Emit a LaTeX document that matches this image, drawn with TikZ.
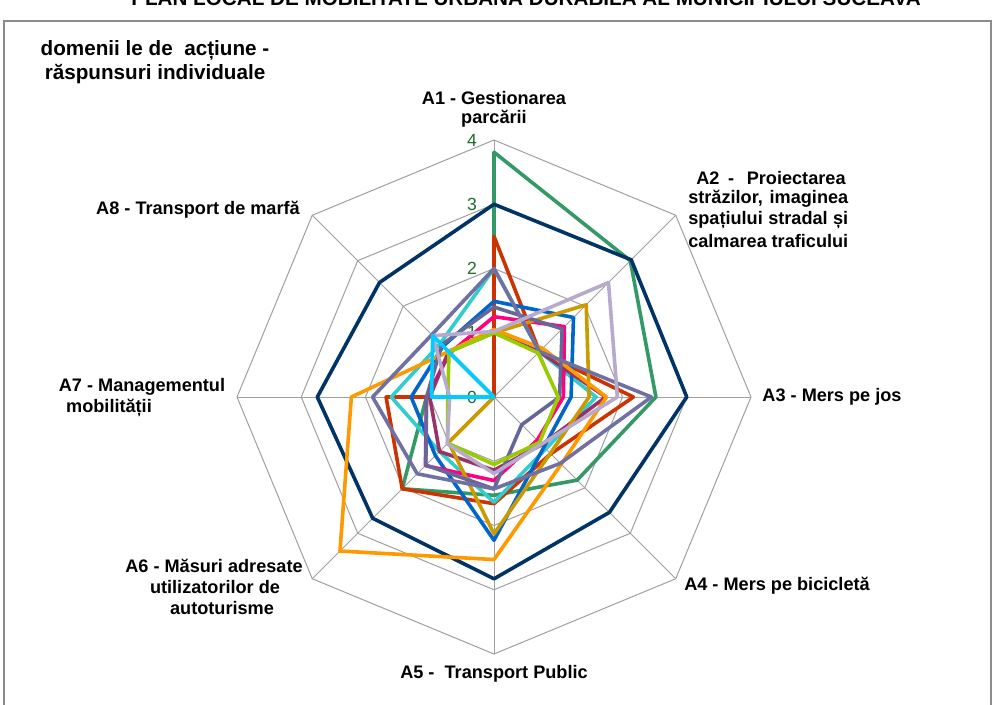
\documentclass[tikz,border=0pt]{standalone}
\usepackage{fontspec}
\setmainfont{Liberation Sans}
\definecolor{cnavy}{RGB}{0,51,102}
\definecolor{cgreen}{RGB}{51,153,102}
\definecolor{cred}{RGB}{204,51,0}
\definecolor{cteal}{RGB}{51,204,204}
\definecolor{cblue}{RGB}{0,102,204}
\definecolor{cpink}{RGB}{255,0,128}
\definecolor{cplum}{RGB}{153,51,102}
\definecolor{cgold}{RGB}{204,153,0}
\definecolor{corange}{RGB}{255,153,0}
\definecolor{cslateA}{RGB}{102,102,153}
\definecolor{cslateB}{RGB}{112,112,162}
\definecolor{clime}{RGB}{153,204,0}
\definecolor{clav}{RGB}{182,170,206}
\definecolor{ccyan}{RGB}{0,204,255}
\definecolor{cgrid}{RGB}{160,160,160}
\definecolor{cnum}{RGB}{30,110,45}
\definecolor{cframe}{RGB}{140,140,140}
\newcommand\rdr[9]{\draw[serie,#1] (90:#2) -- (45:#3) -- (0:#4) -- (-45:#5) -- (-90:#6) -- (-135:#7) -- (180:#8) -- (135:#9) -- cycle;}
\newcommand\jline[1]{\makebox[120pt][s]{#1}}
\begin{document}
\begin{tikzpicture}[x=0.75pt,y=-0.75pt,
  lbl/.style={font=\bfseries\fontsize{13.6}{16}\selectfont, inner sep=0pt},
  ttl/.style={font=\bfseries\fontsize{15.5}{18}\selectfont, inner sep=0pt},
  num/.style={font=\fontsize{13.2}{15}\selectfont, text=cnum, inner sep=0pt, anchor=east},
  gridline/.style={draw=cgrid, line width=0.75pt},
  serie/.style={line width=2.7pt, line join=round}]
\useasboundingbox (0,0) rectangle (996,704);
\clip (0,0) rectangle (996,704);
\fill[white] (0,0) rectangle (996,704);
\draw[cframe, line width=0.8pt] (4,21) rectangle (991,730);
% top title (cut off at the page edge, as in the reference)
\node[ttl, anchor=base] (title) at (526,5) {PLAN LOCAL DE MOBILITATE URBANĂ DURABILĂ AL MUNICIPIULUI SUCEAVA};
\node[ttl] (t1) at (155,50) {domenii le de~ acțiune -};
\node[ttl] (t2) at (155,74) {răspunsuri individuale};
\begin{scope}[shift={(494,397)}, x=48.1875pt, y=48.1875pt]
  \foreach \r in {1,2,3,4}
    \draw[gridline] (90:\r) -- (45:\r) -- (0:\r) -- (-45:\r) -- (-90:\r) -- (-135:\r) -- (180:\r) -- (135:\r) -- cycle;
  \foreach \a in {90,45,0,-45,-90,-135,180,135}
    \draw[gridline] (0,0) -- (\a:4);
  \foreach \r in {0,1,2,3,4}
    \node[num] (n\r) at (-0.26,\r) {\r};
  % series: A1 A2 A3 A4 A5 A6 A7 A8
  \rdr{cgreen}{3.81}{3.0}{2.52}{1.83}{1.53}{2.02}{1.05}{0}
  \rdr{cnavy}{3.0}{3.02}{3.0}{2.54}{2.83}{2.67}{2.75}{2.52}
  \rdr{cred}{2.5}{1.0}{2.17}{1.25}{1.66}{2.02}{1.68}{0}
  \rdr{cteal}{2.0}{1.0}{1.59}{1.14}{1.64}{1.2}{1.6}{1.18}
  \rdr{cblue}{1.49}{1.75}{1.2}{1.1}{2.23}{1.29}{1.29}{1.12}
  \rdr{cpink}{1.25}{1.55}{1.08}{0.95}{1.3}{1.51}{1.05}{0.97}
  \rdr{cplum}{1.0}{1.0}{1.74}{1.05}{1.14}{1.2}{1.0}{1.0}
  \rdr{cgold}{1.0}{2.03}{1.48}{1.24}{2.13}{1.0}{0}{1.0}
  \rdr{corange}{1.05}{1.07}{1.75}{1.48}{2.53}{3.39}{2.22}{1.0}
  \rdr{cslateA}{1.4}{1.5}{1.02}{0.61}{1.43}{1.5}{1.05}{1.15}
  \rdr{cslateB}{2.0}{1.0}{2.45}{1.46}{1.43}{1.69}{1.89}{1.37}
  \rdr{clime}{1.0}{0.97}{1.0}{1.0}{1.05}{1.02}{0.72}{0.99}
  \rdr{clav}{1.02}{2.52}{1.92}{1.04}{1.19}{1.03}{0.69}{1.35}
  \rdr{ccyan}{0}{0}{0}{0}{0}{0}{0.97}{1.35}
\end{scope}
% axis labels
\node[lbl] (a1a) at (494,98) {A1 - Gestionarea};
\node[lbl] (a1b) at (494,119) {parcării};
\node[lbl, anchor=west] (a2a) at (696,178) {\makebox[112pt][s]{A2 -\hspace{3pt} Proiectarea}};
\node[lbl, anchor=west] (a2b) at (688,199) {\jline{străzilor, imaginea}};
\node[lbl, anchor=west] (a2c) at (688,220) {\jline{spațiului stradal și}};
\node[lbl, anchor=west] (a2d) at (688,241) {\jline{calmarea traficului}};
\node[lbl] (a3) at (832,397) {A3 - Mers pe jos};
\node[lbl] (a4) at (777,586) {A4 - Mers pe bicicletă};
\node[lbl] (a5) at (494,674) {A5 -~ Transport Public};
\node[lbl] (a6a) at (214,566) {A6 - Măsuri adresate};
\node[lbl] (a6b) at (215,587) {utilizatorilor de};
\node[lbl] (a6c) at (222,608) {autoturisme};
\node[lbl] (a7a) at (142,387) {A7 - Managementul};
\node[lbl] (a7b) at (109,408) {mobilității};
\node[lbl] (a8) at (198,210) {A8 - Transport de marfă};
\end{tikzpicture}
\end{document}
